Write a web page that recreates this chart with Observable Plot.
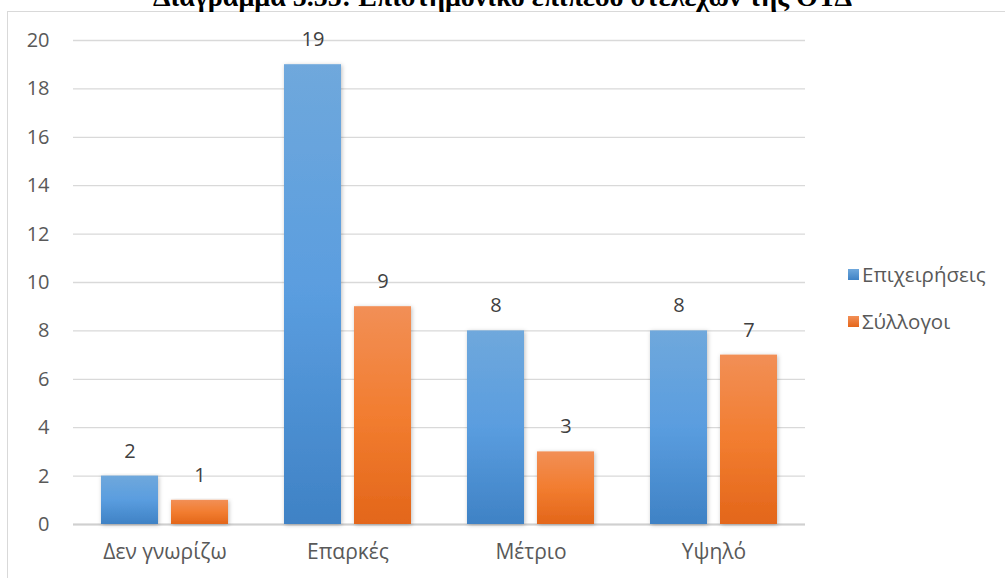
<!DOCTYPE html>
<html><head><meta charset="utf-8">
<script src="https://cdn.jsdelivr.net/npm/d3@7"></script>
<script src="https://cdn.jsdelivr.net/npm/@observablehq/plot@0.6"></script>
<style>
body{margin:0;background:#fff;font-family:"Open Sans",sans-serif;}
#wrap{position:relative;width:1005px;height:578px;overflow:hidden;}
#frame{position:absolute;left:7px;top:11px;width:1010px;height:580px;border:1px solid #d9d9d9;box-sizing:border-box;}
#title{position:absolute;left:0;width:1005px;top:-19px;text-align:center;font-family:"Liberation Serif",serif;font-weight:bold;font-size:28px;color:#000;white-space:nowrap;line-height:32px;}
#chart{position:absolute;left:0;top:0;}
.leg{position:absolute;left:848px;font-size:20.5px;color:#595959;display:flex;align-items:center;line-height:24px;}
.leg span.sw{display:inline-block;width:11px;height:11px;margin-right:3px;}
</style></head>
<body>
<div id="wrap">
<div id="frame"></div>
<div id="chart"></div>
<div id="title">Διάγραμμα 5.55: Επιστημονικό επίπεδο στελεχών της ΟΤΔ</div>
<div class="leg" style="top:262px"><span class="sw" style="background:linear-gradient(#6fa8dc,#3f82c5)"></span>Επιχειρήσεις</div>
<div class="leg" style="top:309px"><span class="sw" style="background:linear-gradient(#f28f56,#e5661a)"></span>Σύλλογοι</div>
</div>
<script>
const categories = ["Δεν γνωρίζω", "Επαρκές", "Μέτριο", "Υψηλό"];
const series = ["Επιχειρήσεις", "Σύλλογοι"];
const epixeiriseis = [2, 19, 8, 8];
const syllogoi = [1, 9, 3, 7];
const yTicks = [0, 2, 4, 6, 8, 10, 12, 14, 16, 18, 20];

const data = [];
categories.forEach((c, i) => {
  data.push({cat: c, s: series[0], v: epixeiriseis[i]});
  data.push({cat: c, s: series[1], v: syllogoi[i]});
});

const plot = Plot.plot({
  width: 1005,
  height: 578,
  marginLeft: 72,
  marginRight: 200,
  marginTop: 40,
  marginBottom: 54,
  style: {fontFamily: '"Open Sans", sans-serif', fontSize: "20px", color: "#595959", background: "transparent"},
  fx: {domain: categories, padding: 0, label: null},
  x: {domain: series, paddingInner: 0.184, paddingOuter: 0.383, axis: null},
  y: {domain: [0, 20], label: null},
  color: {domain: series, range: ["url(#gBlue)", "url(#gOrange)"]},
  marks: [
    Plot.ruleY(yTicks, {stroke: "#d9d9d9", strokeWidth: 1.3}),
    Plot.ruleY([0], {stroke: "#d0d0d0", strokeWidth: 1.8}),
    Plot.axisY({ticks: yTicks, tickSize: 0, tickPadding: 24, fontSize: 20, fill: "#595959", anchor: "left", label: null}),
    Plot.axisFx({tickSize: 0, tickPadding: 20, fontSize: 21, fill: "#595959", anchor: "bottom", label: null}),
    Plot.barY(data, {fx: "cat", x: "s", y: "v", fill: "s"}),
    Plot.text(data, {fx: "cat", x: "s", y: "v", text: d => String(d.v), dy: -25, fontSize: 20, fill: "#404040"})
  ]
});
document.getElementById("chart").appendChild(plot);

const ns = "http://www.w3.org/2000/svg";
const defs = document.createElementNS(ns, "defs");
defs.innerHTML = `
<linearGradient id="gBlue" x1="0" y1="0" x2="0" y2="1"><stop offset="0" stop-color="#6fa8dc"/><stop offset="0.5" stop-color="#5a9ddf"/><stop offset="1" stop-color="#3f82c5"/></linearGradient>
<linearGradient id="gOrange" x1="0" y1="0" x2="0" y2="1"><stop offset="0" stop-color="#f28f56"/><stop offset="0.5" stop-color="#f27d30"/><stop offset="1" stop-color="#e3661a"/></linearGradient>
<filter id="sh" x="-20%" y="-5%" width="140%" height="115%"><feDropShadow dx="1" dy="1" stdDeviation="2" flood-color="#000" flood-opacity="0.25"/></filter>`;
plot.insertBefore(defs, plot.firstChild);
plot.querySelectorAll('g[aria-label="bar"] rect').forEach(r => r.setAttribute("filter", "url(#sh)"));
</script>
</body></html>
